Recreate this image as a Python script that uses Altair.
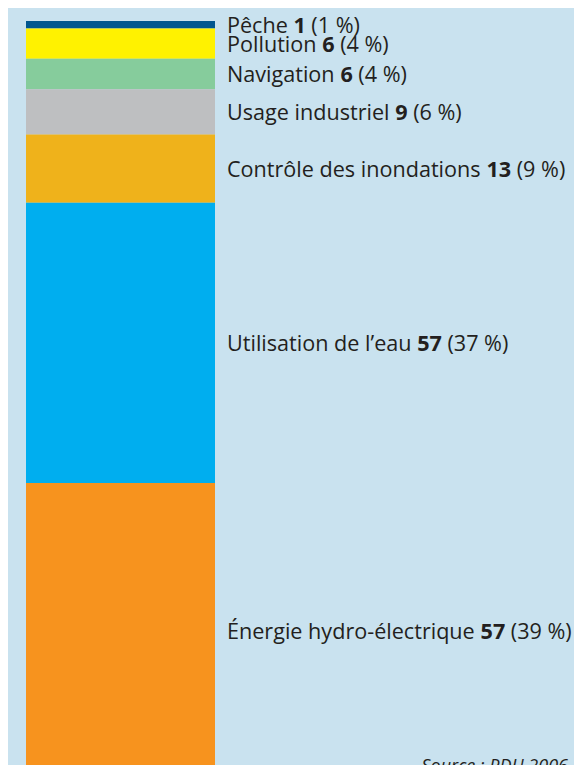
import glob
import os
import struct

import altair as alt
import pandas as pd

# ---------------- data ----------------
categories = [
    "Pêche",
    "Pollution",
    "Navigation",
    "Usage industriel",
    "Contrôle des inondations",
    "Utilisation de l’eau",
    "Énergie hydro-électrique",
]
values = [1, 6, 6, 9, 13, 57, 57]
percents = [1, 4, 4, 6, 9, 37, 39]
colors = ["#00568f", "#fff200", "#86cc9c", "#bebfc1", "#efb21b", "#00aeef", "#f7931e"]
source_text = "Source : PDH 2006"

# ---------------- styling ----------------
FONT = "Open Sans"
FONT_FILES = {"normal": ["OpenSans-Regular.ttf", "OpenSans*.ttf"],
              "bold": ["OpenSans-Bold.ttf", "OpenSans*.ttf"]}
FONT_SIZE = 21.6
TEXT_COLOR = "#231f20"
BG = "#c9e2ef"
LABEL_LEFT = 219


def find_font(names):
    dirs = ["/usr/share/fonts", "/usr/local/share/fonts",
            os.path.expanduser("~/.fonts"), os.path.expanduser("~/.local/share/fonts")]
    for n in names:
        for d in dirs:
            hits = sorted(glob.glob(os.path.join(d, "**", n), recursive=True))
            if hits:
                return hits[0]
    return None


class FontMetrics:
    """Minimal TrueType reader: advance widths through the cmap format-4 table."""

    def __init__(self, path):
        self.ok = False
        try:
            data = open(path, "rb").read()
            self.data = data
            n = struct.unpack(">H", data[4:6])[0]
            t = {}
            for i in range(n):
                tag, _, off, ln = struct.unpack(">4sIII", data[12 + 16 * i:28 + 16 * i])
                t[tag.decode("latin1")] = off
            self.upem = struct.unpack(">H", data[t["head"] + 18:t["head"] + 20])[0]
            nh = struct.unpack(">H", data[t["hhea"] + 34:t["hhea"] + 36])[0]
            h = t["hmtx"]
            self.adv = [struct.unpack(">H", data[h + 4 * i:h + 4 * i + 2])[0] for i in range(nh)]
            c = t["cmap"]
            nsub = struct.unpack(">H", data[c + 2:c + 4])[0]
            self.sub = None
            for i in range(nsub):
                pid, eid, soff = struct.unpack(">HHI", data[c + 4 + 8 * i:c + 12 + 8 * i])
                st = c + soff
                fmt = struct.unpack(">H", data[st:st + 2])[0]
                if fmt == 4 and pid in (0, 3):
                    self.sub = st
                    break
            self.ok = self.sub is not None
        except Exception:
            self.ok = False

    def glyph(self, ch):
        d, st = self.data, self.sub
        code = ord(ch)
        segx2 = struct.unpack(">H", d[st + 6:st + 8])[0]
        segs = segx2 // 2
        ends = struct.unpack(">%dH" % segs, d[st + 14:st + 14 + segx2])
        starts = struct.unpack(">%dH" % segs, d[st + 16 + segx2:st + 16 + 2 * segx2])
        deltas = struct.unpack(">%dh" % segs, d[st + 16 + 2 * segx2:st + 16 + 3 * segx2])
        rpos = st + 16 + 3 * segx2
        roffs = struct.unpack(">%dH" % segs, d[rpos:rpos + segx2])
        for s in range(segs):
            if starts[s] <= code <= ends[s]:
                if roffs[s] == 0:
                    return (code + deltas[s]) & 0xFFFF
                addr = rpos + 2 * s + roffs[s] + 2 * (code - starts[s])
                g = struct.unpack(">H", d[addr:addr + 2])[0]
                return (g + deltas[s]) & 0xFFFF if g else 0
        return 0

    def width(self, text, size):
        tot = 0
        for ch in text:
            g = self.glyph(ch)
            tot += self.adv[min(g, len(self.adv) - 1)]
        return tot * size / self.upem


def make_measure(weight):
    p = find_font(FONT_FILES[weight])
    fm = FontMetrics(p) if p else None
    if fm is not None and fm.ok:
        return lambda s: fm.width(s, FONT_SIZE)
    return lambda s: 0.55 * FONT_SIZE * len(s)


w_reg = make_measure("normal")
w_bold = make_measure("bold")

# ---------------- table ----------------
df = pd.DataFrame({"cat": categories, "value": values, "pct": percents, "color": colors})
df["end"] = df["pct"].cumsum()
df["start"] = df["end"] - df["pct"]
df["mid"] = (df["start"] + df["end"]) / 2
df["name_txt"] = df["cat"] + " "
df["num_txt"] = df["value"].astype(str) + " "
df["pct_txt"] = "(" + df["pct"].astype(str) + " %)"
df["x_name"] = LABEL_LEFT
df["x_num"] = [LABEL_LEFT + w_reg(s) for s in df["name_txt"]]
df["x_pct"] = [xn + w_bold(s) for xn, s in zip(df["x_num"], df["num_txt"])]

yscale = alt.Scale(domain=[0, 98.23], reverse=True)
base = alt.Chart(df)

bars = base.mark_bar(clip=True).encode(
    x=alt.value(18),
    x2=alt.value(207),
    y=alt.Y("start:Q", scale=yscale, axis=None),
    y2="end:Q",
    color=alt.Color("color:N", scale=None, legend=None),
)

NUDGE = "datum.cat == 'Pêche' ? -1 : (datum.cat == 'Pollution' ? 3 : 0)"


def label_layer(xcol, tcol, weight):
    return base.transform_calculate(nudge=NUDGE).mark_text(
        align="left", baseline="alphabetic", dy=8, font=FONT, fontSize=FONT_SIZE,
        fontWeight=weight, color=TEXT_COLOR,
    ).encode(
        x=alt.X(f"{xcol}:Q", scale=None),
        y=alt.Y("mid:Q", scale=yscale, axis=None),
        yOffset=alt.YOffset("nudge:Q", scale=None),
        text=f"{tcol}:N",
    )


names = label_layer("x_name", "name_txt", "normal")
nums = label_layer("x_num", "num_txt", "bold")
pcts = label_layer("x_pct", "pct_txt", "normal")

src = alt.Chart(pd.DataFrame({"t": [source_text]})).mark_text(
    align="right", baseline="top", font=FONT, fontSize=18, fontStyle="italic", color=TEXT_COLOR,
).encode(x=alt.value(560), y=alt.value(737), text="t:N")

chart = alt.layer(bars, names, nums, pcts, src).properties(
    width=566, height=744,
    padding={"left": 0, "top": 13, "right": 0, "bottom": 0},
    autosize="none",
    background=BG,
).configure_view(stroke=None)

chart.save("out.html", embed_options={"renderer": "svg", "actions": False})
